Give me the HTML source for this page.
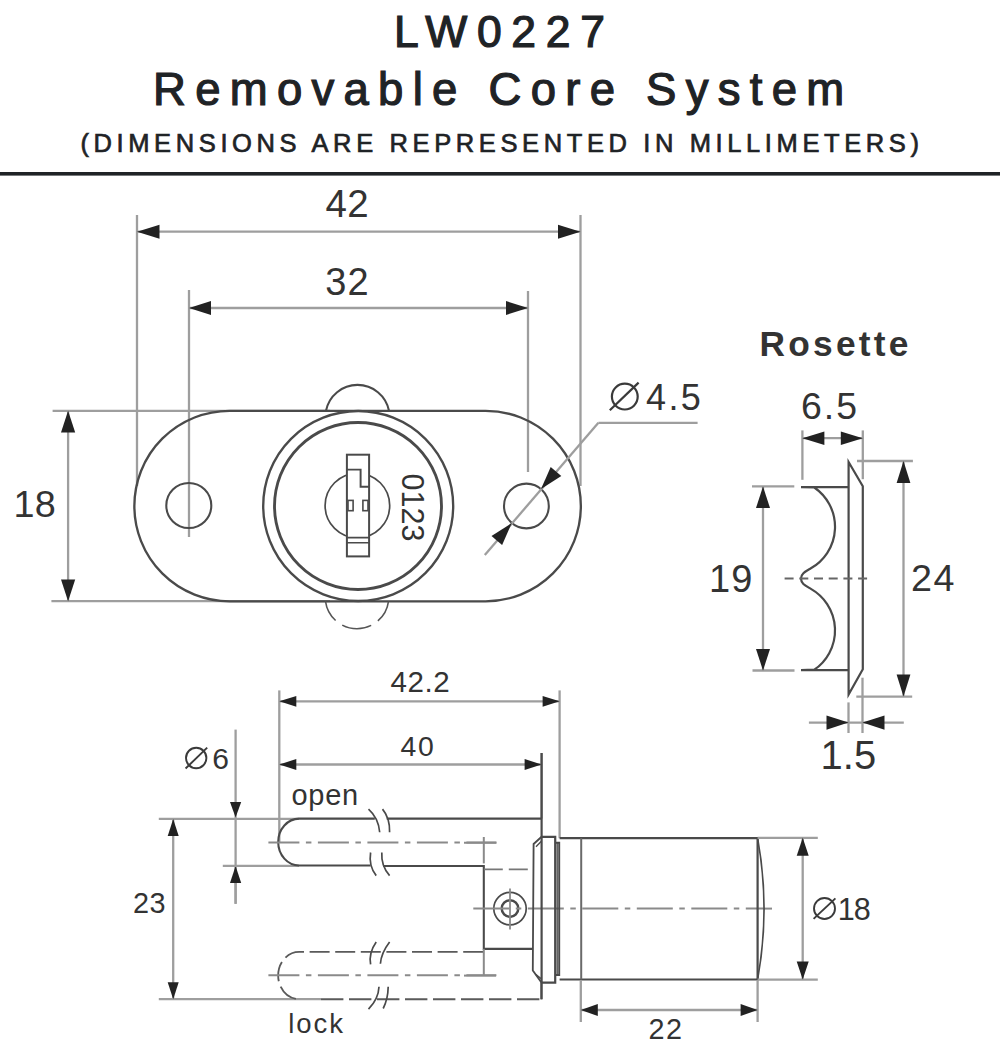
<!DOCTYPE html>
<html><head><meta charset="utf-8"><style>
html,body{margin:0;padding:0;background:#fff;}
body{width:1000px;height:1050px;overflow:hidden;position:relative;font-family:"Liberation Sans",sans-serif;}
svg{position:absolute;left:0;top:0;}
svg text{font-family:"Liberation Sans",sans-serif;}
</style></head><body>
<svg width="1000" height="1050" viewBox="0 0 1000 1050">
<rect x="0" y="172" width="1000" height="3.6" fill="#1f2326"/>
<line x1="137" y1="215" x2="137" y2="486" stroke="#9e9e9e" stroke-width="2.3" />
<line x1="580.5" y1="215" x2="580.5" y2="486" stroke="#9e9e9e" stroke-width="2.3" />
<line x1="137" y1="231.7" x2="580.5" y2="231.7" stroke="#9e9e9e" stroke-width="2.3" />
<polygon points="137.0,231.7 159.5,224.7 159.5,238.7" fill="#222"/>
<polygon points="580.5,231.7 558.0,238.7 558.0,224.7" fill="#222"/>
<line x1="189" y1="290" x2="189" y2="537" stroke="#9e9e9e" stroke-width="2.3" />
<line x1="528" y1="291" x2="528" y2="472" stroke="#9e9e9e" stroke-width="2.3" />
<line x1="189" y1="308" x2="528" y2="308" stroke="#9e9e9e" stroke-width="2.3" />
<polygon points="189.0,308.0 211.0,301.0 211.0,315.0" fill="#222"/>
<polygon points="528.0,308.0 506.0,315.0 506.0,301.0" fill="#222"/>
<line x1="52.6" y1="410.8" x2="330" y2="410.8" stroke="#9e9e9e" stroke-width="2.3" />
<line x1="51.4" y1="601.2" x2="330" y2="601.2" stroke="#9e9e9e" stroke-width="2.3" />
<line x1="68.1" y1="410.8" x2="68.1" y2="601.2" stroke="#9e9e9e" stroke-width="2.3" />
<polygon points="68.1,410.8 75.2,432.5 61.0,432.5" fill="#222"/>
<polygon points="68.1,601.2 61.0,579.5 75.2,579.5" fill="#222"/>
<path d="M229.6,410.8 L485.6,410.8 A95.25,95.25 0 0 1 485.6,601.3 L229.6,601.3 A95.25,95.25 0 0 1 229.6,410.8 Z" stroke="#4a4a4a" stroke-width="2.34" fill="none" />
<circle cx="188.8" cy="505.5" r="22.5" stroke="#4a4a4a" stroke-width="2.08" fill="none" />
<circle cx="526.4" cy="506" r="22.4" stroke="#4a4a4a" stroke-width="2.08" fill="none" />
<path d="M326,410.8 A32.1,32.1 0 0 1 389,410.8" stroke="#4a4a4a" stroke-width="2.08" fill="none" />
<circle cx="358.2" cy="506" r="95" stroke="#4a4a4a" stroke-width="2.34" fill="none" />
<circle cx="358" cy="506" r="83.5" stroke="#4a4a4a" stroke-width="2.86" fill="none" />
<circle cx="357.4" cy="505.6" r="32.3" stroke="#4a4a4a" stroke-width="1.69" fill="none" />
<rect x="346.9" y="454.7" width="22.2" height="101.7" fill="#fff" stroke="#4a4a4a" stroke-width="2"/>
<path d="M346.9,469.6 L360.6,469.6 L360.6,486.7 L369.1,486.7" stroke="#4a4a4a" stroke-width="1.95" fill="none" />
<path d="M346.9,537.6 L369.1,537.6 M346.9,542.7 L369.1,542.7" stroke="#4a4a4a" stroke-width="1.56" fill="none" />
<rect x="348" y="500.4" width="5.1" height="10.3" fill="none" stroke="#4a4a4a" stroke-width="1.6"/>
<rect x="362.9" y="500.4" width="5.1" height="10.3" fill="none" stroke="#4a4a4a" stroke-width="1.6"/>
<text x="0" y="0" font-size="30.5" text-anchor="middle" fill="#333" font-weight="normal" letter-spacing="0"  transform="translate(401.5,507.5) rotate(90)">0123</text>
<path d="M325.5,601.3 A31.8,31.8 0 0 0 388.5,601.3" stroke="#555" stroke-width="1.56" fill="none" stroke-dasharray="22,8,30,8,30"/>
<line x1="484.8" y1="555" x2="598.4" y2="422.8" stroke="#9e9e9e" stroke-width="2.3" />
<line x1="598.4" y1="422.8" x2="697.6" y2="422.8" stroke="#9e9e9e" stroke-width="2.3" />
<polygon points="541.0,489.0 550.7,467.0 561.3,476.1" fill="#222"/>
<polygon points="511.8,523.0 502.1,545.0 491.5,535.9" fill="#222"/>
<line x1="802.4" y1="430.4" x2="802.4" y2="479.8" stroke="#9e9e9e" stroke-width="2.3" />
<line x1="862.8" y1="430.4" x2="862.8" y2="479.2" stroke="#9e9e9e" stroke-width="2.3" />
<line x1="802.4" y1="438.2" x2="862.8" y2="438.2" stroke="#9e9e9e" stroke-width="2.3" />
<polygon points="802.4,438.2 824.4,431.4 824.4,444.9" fill="#222"/>
<polygon points="862.8,438.2 840.8,444.9 840.8,431.4" fill="#222"/>
<line x1="857" y1="461" x2="912.9" y2="461" stroke="#9e9e9e" stroke-width="2.3" />
<line x1="856.3" y1="696.6" x2="912.2" y2="696.6" stroke="#9e9e9e" stroke-width="2.3" />
<line x1="903.5" y1="461" x2="903.5" y2="696.6" stroke="#9e9e9e" stroke-width="2.3" />
<polygon points="903.5,461.0 910.4,483.0 896.6,483.0" fill="#222"/>
<polygon points="903.5,696.6 896.6,674.6 910.4,674.6" fill="#222"/>
<line x1="752" y1="486.4" x2="794.3" y2="486.4" stroke="#9e9e9e" stroke-width="2.3" />
<line x1="752.5" y1="670.5" x2="794.5" y2="670.5" stroke="#9e9e9e" stroke-width="2.3" />
<line x1="763" y1="486.4" x2="763" y2="670.5" stroke="#9e9e9e" stroke-width="2.3" />
<polygon points="763.0,486.4 770.0,507.9 756.0,507.9" fill="#222"/>
<polygon points="763.0,670.5 756.0,649.0 770.0,649.0" fill="#222"/>
<line x1="848.5" y1="702.4" x2="848.5" y2="733" stroke="#9e9e9e" stroke-width="2.3" />
<line x1="862.5" y1="677.7" x2="862.5" y2="733" stroke="#9e9e9e" stroke-width="2.3" />
<line x1="808.9" y1="722.6" x2="903.8" y2="722.6" stroke="#9e9e9e" stroke-width="2.3" />
<polygon points="848.5,722.6 826.5,729.8 826.5,715.5" fill="#222"/>
<polygon points="862.5,722.6 884.5,715.5 884.5,729.8" fill="#222"/>
<path d="M801,487.1 L848.6,487.1 M801,487.1 L814.3,487.5 A47.7,47.7 0 0 1 810.9,568.3 C805.5,571.5 801,573.5 801,578.6" stroke="#4a4a4a" stroke-width="2.21" fill="none" />
<path d="M801,670.1 L848.6,670.1 M801,670.1 L814.3,669.7 A47.7,47.7 0 0 0 810.9,588.9000000000001 C805.5,585.7 801,583.7 801,578.6" stroke="#4a4a4a" stroke-width="2.21" fill="none" />
<path d="M848.6,462 L848.6,694.6 L862.8,669.3 L862.8,486.3 Z" stroke="#4a4a4a" stroke-width="2.21" fill="none" />
<line x1="784.6" y1="578.6" x2="869.5" y2="578.6" stroke="#666" stroke-width="2" stroke-dasharray="9,5.7"/>
<line x1="279.3" y1="690.4" x2="279.3" y2="842" stroke="#9e9e9e" stroke-width="2.3" />
<line x1="559.6" y1="690.4" x2="559.6" y2="838.2" stroke="#9e9e9e" stroke-width="2.3" />
<line x1="279.3" y1="701.3" x2="559.6" y2="701.3" stroke="#9e9e9e" stroke-width="2.3" />
<polygon points="279.3,701.3 296.3,695.9 296.3,706.7" fill="#222"/>
<polygon points="559.6,701.3 542.6,706.7 542.6,695.9" fill="#222"/>
<line x1="541.6" y1="753" x2="541.6" y2="818.6" stroke="#9e9e9e" stroke-width="2.3" />
<line x1="279.3" y1="764.5" x2="541.6" y2="764.5" stroke="#9e9e9e" stroke-width="2.3" />
<polygon points="279.3,764.5 296.3,759.1 296.3,769.9" fill="#222"/>
<polygon points="541.6,764.5 524.6,769.9 524.6,759.1" fill="#222"/>
<line x1="235.6" y1="729.6" x2="235.6" y2="903.8" stroke="#9e9e9e" stroke-width="2.3" />
<polygon points="235.6,817.6 230.0,802.1 241.2,802.1" fill="#222"/>
<line x1="235.6" y1="865.9" x2="235.6" y2="903.8" stroke="#9e9e9e" stroke-width="2.3" />
<polygon points="235.6,865.9 241.2,882.9 230.0,882.9" fill="#222"/>
<line x1="222.8" y1="865.9" x2="299" y2="865.9" stroke="#9e9e9e" stroke-width="2.3" />
<line x1="158.8" y1="818.9" x2="299" y2="818.9" stroke="#9e9e9e" stroke-width="2.3" />
<line x1="158.8" y1="999.2" x2="321" y2="999.2" stroke="#9e9e9e" stroke-width="2.3" />
<line x1="173.2" y1="818.9" x2="173.2" y2="999.2" stroke="#9e9e9e" stroke-width="2.3" />
<polygon points="173.2,818.9 178.7,835.9 167.7,835.9" fill="#222"/>
<polygon points="173.2,999.2 167.7,982.2 178.7,982.2" fill="#222"/>
<path d="M374.8,818.6 L299.2,818.6 A21,23.45 0 0 0 299.2,865.5 L370.6,865.5" stroke="#4a4a4a" stroke-width="2.08" fill="none" />
<path d="M386.7,818.6 L541.6,818.6" stroke="#4a4a4a" stroke-width="2.08" fill="none" />
<path d="M383.2,866 L483.8,866 L483.8,948.9 L532.8,948.9" stroke="#4a4a4a" stroke-width="2.08" fill="none" />
<line x1="483.8" y1="869.4" x2="533" y2="869.4" stroke="#777" stroke-width="1.8" stroke-dasharray="19,6"/>
<line x1="268.4" y1="842.6" x2="496.4" y2="842.6" stroke="#8a8a8a" stroke-width="2" stroke-dasharray="31,6.5,5.5,6.5"/>
<line x1="464" y1="842.8" x2="496.4" y2="842.8" stroke="#8a8a8a" stroke-width="2" />
<line x1="483.8" y1="837" x2="483.8" y2="863.4" stroke="#8a8a8a" stroke-width="2" />
<path d="M368.5,809.1 Q378.5,818 379.7,832.2" stroke="#4a4a4a" stroke-width="1.69" fill="none" />
<path d="M382.5,809.1 Q390,818 389.6,832.2" stroke="#4a4a4a" stroke-width="1.69" fill="none" />
<path d="M370.6,852.5 Q368.5,866 376.2,875.6" stroke="#4a4a4a" stroke-width="1.69" fill="none" />
<path d="M381.8,852.5 Q381,866 389.6,875.6" stroke="#4a4a4a" stroke-width="1.69" fill="none" />
<path d="M483.2,951.8 L299.2,951.8 A21,23.6 0 0 0 299.2,999.1" stroke="#5a5a5a" stroke-width="1.82" fill="none" stroke-dasharray="20,5.6"/>
<line x1="321" y1="999.3" x2="541.3" y2="999.3" stroke="#5a5a5a" stroke-width="1.9" stroke-dasharray="22.4,5.6"/>
<line x1="541.3" y1="982.6" x2="541.3" y2="999.3" stroke="#5a5a5a" stroke-width="1.8" />
<line x1="268.4" y1="975.3" x2="496.4" y2="975.3" stroke="#8a8a8a" stroke-width="2" stroke-dasharray="31,6.5,5.5,6.5"/>
<line x1="464" y1="975.6" x2="496" y2="975.6" stroke="#8a8a8a" stroke-width="2" />
<line x1="483.8" y1="948.9" x2="483.8" y2="975.5" stroke="#8a8a8a" stroke-width="2" />
<path d="M376.2,942 Q368.5,953 370.6,964.4" stroke="#4a4a4a" stroke-width="1.69" fill="none" />
<path d="M389.6,942 Q381.2,953 380.4,963.7" stroke="#4a4a4a" stroke-width="1.69" fill="none" />
<path d="M379,986.8 Q378.5,999 368.5,1009.2" stroke="#4a4a4a" stroke-width="1.69" fill="none" />
<path d="M388.2,986.8 Q388,999 383.2,1008.5" stroke="#4a4a4a" stroke-width="1.69" fill="none" />
<circle cx="510" cy="908.6" r="16.2" stroke="#4a4a4a" stroke-width="1.69" fill="none" />
<circle cx="510" cy="908.6" r="8.3" stroke="#4a4a4a" stroke-width="2.47" fill="none" />
<line x1="510" y1="888.6" x2="510" y2="929.5" stroke="#8a8a8a" stroke-width="1.8" />
<line x1="473.3" y1="908.6" x2="772" y2="908.6" stroke="#8a8a8a" stroke-width="2" stroke-dasharray="36,6.5,5.5,6.5"/>
<path d="M541.6,836.8 L555.2,836.8 L555.2,982.6 L541.6,982.6" stroke="#4a4a4a" stroke-width="2.21" fill="none" />
<line x1="541.6" y1="753" x2="541.6" y2="999.3" stroke="#4a4a4a" stroke-width="2.2" />
<path d="M541.6,836.8 L533.6,844 L532.8,970.5 L541.6,982.6" stroke="#4a4a4a" stroke-width="1.82" fill="none" />
<path d="M541.6,841 L536,846.8 M536,974.4 L541.6,979" stroke="#4a4a4a" stroke-width="1.3" fill="none" />
<path d="M555.2,842.8 L559.2,842.8 L559.2,975 L555.2,975" stroke="#4a4a4a" stroke-width="1.95" fill="none" />
<line x1="557.2" y1="842.8" x2="557.2" y2="975" stroke="#4a4a4a" stroke-width="1.3" />
<path d="M559.6,838.2 L757.6,838.2 L757.6,979.5 L559.6,979.5" stroke="#4a4a4a" stroke-width="2.21" fill="none" />
<line x1="581.2" y1="838.2" x2="581.2" y2="979.5" stroke="#6a6a6a" stroke-width="2" />
<path d="M757.6,838.2 Q770.5,908.8 757.6,979.5" stroke="#4a4a4a" stroke-width="1.69" fill="none" />
<line x1="757.6" y1="837.8" x2="817.8" y2="837.8" stroke="#9e9e9e" stroke-width="2.3" />
<line x1="757.6" y1="979.6" x2="817.8" y2="979.6" stroke="#9e9e9e" stroke-width="2.3" />
<line x1="802.7" y1="837.8" x2="802.7" y2="979.6" stroke="#9e9e9e" stroke-width="2.3" />
<polygon points="802.7,837.8 808.7,855.8 796.7,855.8" fill="#222"/>
<polygon points="802.7,979.6 796.7,961.6 808.7,961.6" fill="#222"/>
<line x1="580.8" y1="980" x2="580.8" y2="1022" stroke="#9e9e9e" stroke-width="2.3" />
<line x1="757.6" y1="980" x2="757.6" y2="1022" stroke="#9e9e9e" stroke-width="2.3" />
<line x1="580.8" y1="1010" x2="757.6" y2="1010" stroke="#9e9e9e" stroke-width="2.3" />
<polygon points="580.8,1010.0 597.8,1004.0 597.8,1016.0" fill="#222"/>
<polygon points="757.6,1010.0 740.6,1016.0 740.6,1004.0" fill="#222"/>
<text x="347.36" y="217.42" font-size="38.5" text-anchor="middle" fill="#333" font-weight="normal" letter-spacing="0.5"  >42</text>
<text x="347.4" y="295.36" font-size="37.99" text-anchor="middle" fill="#333" font-weight="normal" letter-spacing="0.92"  >32</text>
<text x="34.8" y="516.6" font-size="37.79" text-anchor="middle" fill="#333" font-weight="normal" letter-spacing="0.4"  >18</text>
<text x="674.6" y="410.0" font-size="36.0" text-anchor="middle" fill="#333" font-weight="normal" letter-spacing="2.4"  >4.5</text>
<text x="830.0" y="419.42" font-size="37.43" text-anchor="middle" fill="#333" font-weight="normal" letter-spacing="2.0"  >6.5</text>
<text x="933.62" y="591.44" font-size="37.71" text-anchor="middle" fill="#333" font-weight="normal" letter-spacing="1.6"  >24</text>
<text x="731.2" y="592.32" font-size="37.99" text-anchor="middle" fill="#333" font-weight="normal" letter-spacing="0.98"  >19</text>
<text x="848.36" y="769.08" font-size="39.94" text-anchor="middle" fill="#333" font-weight="normal" letter-spacing="0.12"  >1.5</text>
<text x="420.44" y="691.66" font-size="29.55" text-anchor="middle" fill="#333" font-weight="normal" letter-spacing="0.61"  >42.2</text>
<text x="418.14" y="755.62" font-size="28.4" text-anchor="middle" fill="#333" font-weight="normal" letter-spacing="1.88"  >40</text>
<text x="220.6" y="768.76" font-size="30.06" text-anchor="middle" fill="#333" font-weight="normal" letter-spacing="0"  >6</text>
<text x="149.5" y="913.0" font-size="28.83" text-anchor="middle" fill="#333" font-weight="normal" letter-spacing="0.5"  >23</text>
<text x="325.18" y="804.56" font-size="29" text-anchor="middle" fill="#333" font-weight="normal" letter-spacing="0.76"  >open</text>
<text x="316.56" y="1033.0" font-size="27.5" text-anchor="middle" fill="#333" font-weight="normal" letter-spacing="1.98"  >lock</text>
<text x="853.7" y="919.56" font-size="30.62" text-anchor="middle" fill="#333" font-weight="normal" letter-spacing="-1.2"  >18</text>
<text x="666.1" y="1039.48" font-size="28.77" text-anchor="middle" fill="#333" font-weight="normal" letter-spacing="1.5"  >22</text>
<text x="835.56" y="356.3" font-size="35.3" text-anchor="middle" fill="#333" font-weight="bold" letter-spacing="3.207"  >Rosette</text>
<text x="504.4" y="47.2" font-size="44.5" text-anchor="middle" fill="#1f2326" font-weight="normal" letter-spacing="9.74" stroke="#1f2326" stroke-width="1.2" >LW0227</text>
<text x="503.24" y="104.6" font-size="45.5" text-anchor="middle" fill="#1f2326" font-weight="normal" letter-spacing="9.27" stroke="#1f2326" stroke-width="1.2" >Removable Core System</text>
<text x="502.02" y="152.2" font-size="25.5" text-anchor="middle" fill="#1f2326" font-weight="normal" letter-spacing="4.616" stroke="#1f2326" stroke-width="0.7" >(DIMENSIONS ARE REPRESENTED IN MILLIMETERS)</text>
<circle cx="624.8" cy="396.6" r="12.9" stroke="#3a3a3a" stroke-width="2.2" fill="none"/>
<line x1="609.8" y1="410.3" x2="638.6" y2="382.6" stroke="#3a3a3a" stroke-width="2.2"/>
<circle cx="196.2" cy="758" r="10.2" stroke="#3a3a3a" stroke-width="1.9" fill="none"/>
<line x1="185.6" y1="768.5" x2="207.2" y2="747.6" stroke="#3a3a3a" stroke-width="1.9"/>
<circle cx="824.5" cy="908.5" r="10.5" stroke="#3a3a3a" stroke-width="1.9" fill="none"/>
<line x1="813.6" y1="918.9" x2="835.4" y2="898.4" stroke="#3a3a3a" stroke-width="1.9"/>
</svg>
</body></html>
